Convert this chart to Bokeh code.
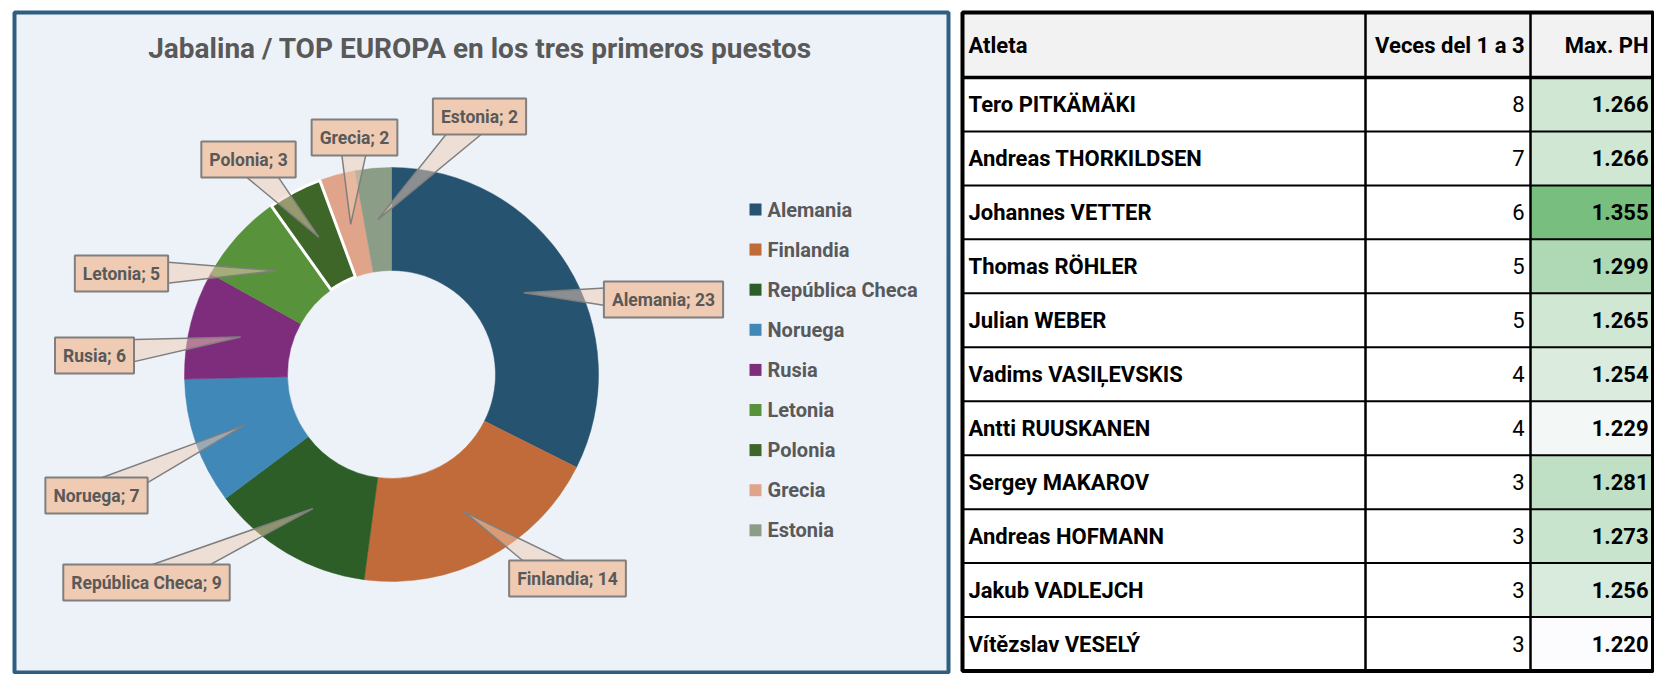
import numpy as np
from bokeh.plotting import figure
from bokeh.models import Range1d, Label, ColumnDataSource
from bokeh.core.properties import value
from bokeh.embed import file_html
from bokeh.resources import INLINE

# ---------------- data ----------------
chart_title = "Jabalina  / TOP   EUROPA en los tres primeros puestos"
countries = ["Alemania", "Finlandia", "República Checa", "Noruega", "Rusia",
             "Letonia", "Polonia", "Grecia", "Estonia"]
podiums = [23, 14, 9, 7, 6, 5, 3, 2, 2]

table_headers = ["Atleta", "Veces del 1 a 3", "Max. PH"]
athletes = ["Tero PITKÄMÄKI", "Andreas THORKILDSEN", "Johannes VETTER",
            "Thomas RÖHLER", "Julian WEBER", "Vadims VASIĻEVSKIS",
            "Antti RUUSKANEN", "Sergey MAKAROV", "Andreas HOFMANN",
            "Jakub VADLEJCH", "Vítězslav VESELÝ"]
veces = [8, 7, 6, 5, 5, 4, 4, 3, 3, 3, 3]
max_ph = [1266, 1266, 1355, 1299, 1265, 1254, 1229, 1281, 1273, 1256, 1220]

# ---------------- style / layout ----------------
SLICE_COLORS = ["#26536F", "#C06B39", "#2D5E28", "#3F88B8", "#7E2D7D",
                "#58923A", "#3E6628", "#E0A48B", "#8B9D86"]
PEACH = "#F0CBB3"
GREY = "#7F7F7F"
TXT = "#595959"
FONT = "Roboto"

PAGE_H = 690


def Y(y):
    return PAGE_H - np.asarray(y, dtype=float)


# donut geometry (page pixels)
CX, CY = 391, 374
R_OUT, R_IN = 207, 104
# label box centres (page pixels), same order as countries
LABEL_POS = [(663, 299), (567, 578), (146, 582), (96, 495), (94, 355),
             (121, 273), (248, 159), (354, 137), (479, 116)]

p = figure(width=1654, height=674, x_range=Range1d(0, 1654), y_range=Range1d(16, 690),
           output_backend="svg", toolbar_location=None, min_border=0,
           x_axis_location=None, y_axis_location=None)
p.grid.visible = False
p.outline_line_color = None
p.background_fill_color = "white"
p.border_fill_color = "white"

# chart box
p.quad(left=14, right=948, top=Y(12), bottom=Y(672), fill_color="#EDF2F9",
       line_color="#2E5E80", line_width=4)

# donut
vals = np.array(podiums, dtype=float)
total = vals.sum()
cum = np.concatenate([[0.0], np.cumsum(vals)])
start = np.pi / 2 - 2 * np.pi * cum[:-1] / total
end = np.pi / 2 - 2 * np.pi * cum[1:] / total
src = ColumnDataSource(dict(start=start, end=end, color=SLICE_COLORS))
p.annular_wedge(x=CX, y=float(Y(CY)), inner_radius=R_IN, outer_radius=R_OUT,
                start_angle="start", end_angle="end", direction="clock",
                fill_color="color", line_color="color", line_width=0.5, source=src)
# white separators around Polonia
ip = countries.index("Polonia")
p.annular_wedge(x=CX, y=float(Y(CY)), inner_radius=R_IN, outer_radius=R_OUT,
                start_angle=start[ip], end_angle=end[ip], direction="clock",
                fill_color=None, line_color="white", line_width=3)

# callout pointers
mid = np.pi / 2 - 2 * np.pi * (cum[:-1] + cum[1:]) / 2 / total
r_mid = (R_IN + R_OUT) / 2
tx = CX + r_mid * np.cos(mid)
ty = Y(CY) + r_mid * np.sin(mid)
bx = np.array([q[0] for q in LABEL_POS], dtype=float)
by = Y([q[1] for q in LABEL_POS])
dx, dy = tx - bx, ty - by
L = np.hypot(dx, dy)
nx, ny = -dy / L, dx / L
hw = 15
xs = [[bx[i] + nx[i] * hw, bx[i] - nx[i] * hw, tx[i]] for i in range(len(bx))]
ys = [[by[i] + ny[i] * hw, by[i] - ny[i] * hw, ty[i]] for i in range(len(bx))]
p.patches(xs, ys, fill_color=PEACH, fill_alpha=0.5, line_color=GREY, line_width=1.5)

for i, c in enumerate(countries):
    p.add_layout(Label(x=bx[i], y=by[i], text=f"{c}; {podiums[i]}",
                       text_align="center", text_baseline="middle",
                       text_font=FONT, text_font_size="17.5px", text_font_style="bold",
                       text_color=TXT, background_fill_color=PEACH,
                       background_fill_alpha=1.0, border_line_color=GREY,
                       border_line_width=2, padding=8))

# title
p.add_layout(Label(x=490, y=float(Y(48)), text=chart_title, text_align="center",
                   text_baseline="middle", text_font=FONT, text_font_size="28px",
                   text_font_style="bold", text_color=TXT))

# legend
leg_y = Y(209 + 40.1 * np.arange(len(countries)))
p.rect(x=755, y=leg_y, width=12, height=12, fill_color=SLICE_COLORS, line_color=None)
p.text(x=767, y=leg_y, text=countries, text_baseline="middle", text_align="left",
       text_font=value(FONT), text_font_size="20px", text_font_style="bold",
       text_color=TXT)

# ---------------- table ----------------
TL, TR, TT, TB = 962, 1652.5, 12, 670.5
C1, C2 = 1365, 1530
HB = 77
nrows = len(athletes)
row_h = (TB - HB) / nrows
row_top = HB + row_h * np.arange(nrows)
row_c = row_top + row_h / 2

ph = np.array(max_ph, dtype=float)
t = (ph - ph.min()) / (ph.max() - ph.min())
lo = np.array([252, 252, 255]); hi = np.array([120, 190, 126])
cell_cols = ["#%02x%02x%02x" % tuple(np.round(lo + (hi - lo) * ti).astype(int)) for ti in t]

p.quad(left=TL, right=TR, top=Y(TT), bottom=Y(HB), fill_color="#F2F2F2", line_color=None)
p.quad(left=TL, right=TR, top=Y(HB), bottom=Y(TB), fill_color="white", line_color=None)
p.quad(left=C2, right=TR, top=Y(row_top), bottom=Y(row_top + row_h),
       fill_color=cell_cols, line_color=None)
p.segment(x0=TL, x1=TR, y0=Y(row_top[1:]), y1=Y(row_top[1:]), line_color="black",
          line_width=2)
p.segment(x0=TL, x1=TR, y0=float(Y(HB)), y1=float(Y(HB)), line_color="black", line_width=3.5)
p.segment(x0=[C1, C2], x1=[C1, C2], y0=float(Y(TT)), y1=float(Y(TB)),
          line_color="black", line_width=2.5)
p.quad(left=TL, right=TR, top=Y(TT), bottom=Y(TB), fill_color=None,
       line_color="black", line_width=4)

hy = float(Y((TT + HB) / 2))
p.text(x=[968], y=[hy], text=[table_headers[0]], text_align="left",
       text_baseline="middle", text_font=value(FONT), text_font_size="22px",
       text_font_style="bold", text_color="black")
p.text(x=[1524, 1648], y=[hy, hy], text=table_headers[1:], text_align="right",
       text_baseline="middle", text_font=value(FONT), text_font_size="22px",
       text_font_style="bold", text_color="black")

ry = Y(row_c)
p.text(x=968, y=ry, text=athletes, text_align="left", text_baseline="middle",
       text_font=value(FONT), text_font_size="22px", text_font_style="bold",
       text_color="black")
p.text(x=1524, y=ry, text=[str(v) for v in veces], text_align="right",
       text_baseline="middle", text_font=value(FONT), text_font_size="22px",
       text_color="black")
p.text(x=1648, y=ry, text=[f"{v:,}".replace(",", ".") for v in max_ph],
       text_align="right", text_baseline="middle", text_font=value(FONT),
       text_font_size="22px", text_font_style="bold", text_color="black")

open("out.html", "w").write(file_html(p, INLINE))
